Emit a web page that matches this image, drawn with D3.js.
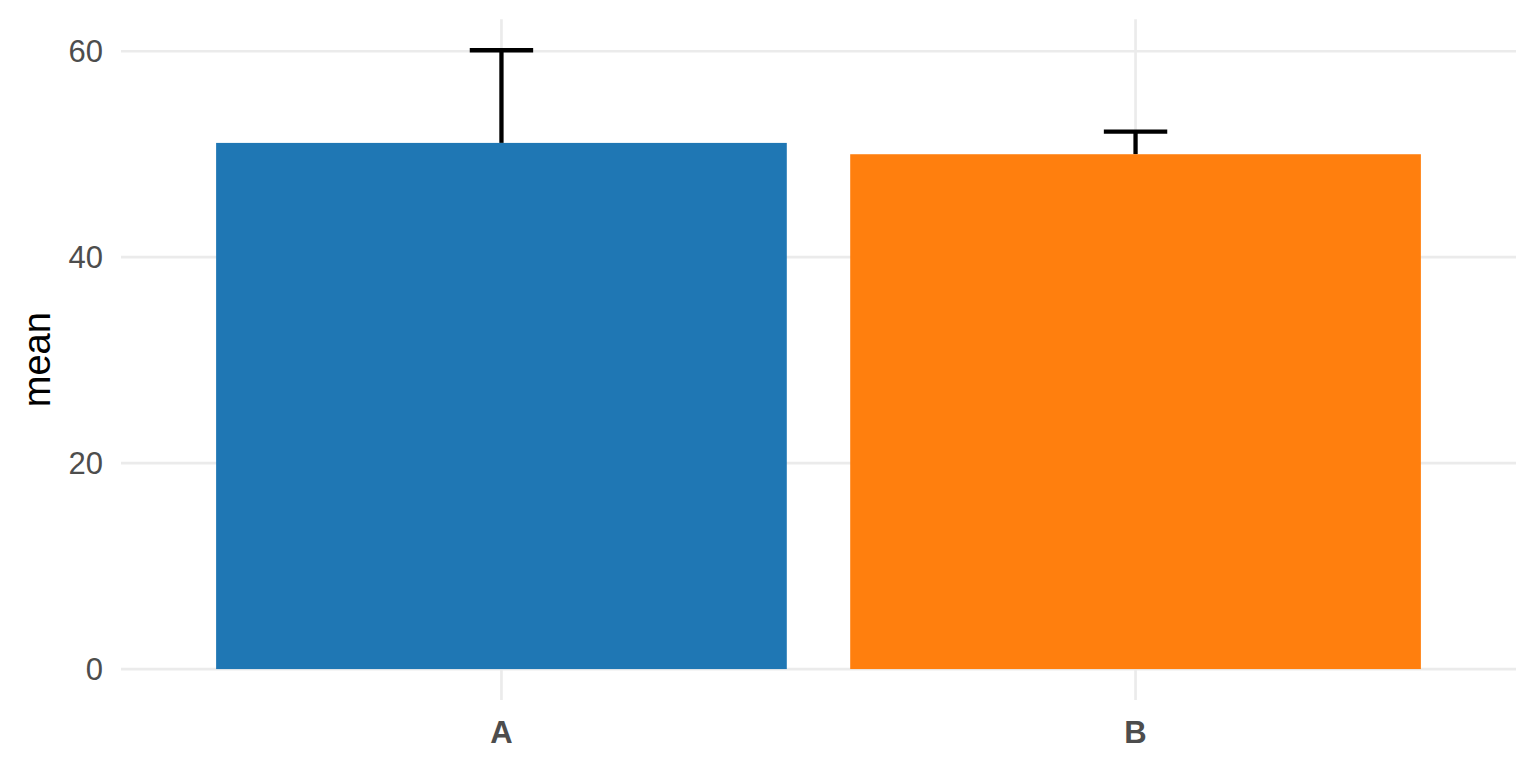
<!DOCTYPE html>
<html><head><meta charset="utf-8">
<script src="https://cdn.jsdelivr.net/npm/d3@7"></script>
<style>body{margin:0;background:#fff}svg{display:block}</style>
</head><body>
<script>
const categories = ["A", "B"];
const means = [51.1, 50.0];
const uppers = [60.1, 52.2];
const colors = ["#1f77b4", "#ff7f0e"];
const yTicks = [0, 20, 40, 60];

(function(){
const W = 1536, H = 768;
const svg = d3.select("body").append("svg").attr("width", W).attr("height", H);
const pL = 121, pR = 1516, pT = 19.3, pB = 700;

const step = (pR - pL) / (categories.length - 1 + 1.2);
const xc = d3.scalePoint().domain(categories).range([pL + 0.6*step, pR - 0.6*step]);
const barW = 0.9 * step;

const yMax = d3.max(uppers);
const y = d3.scaleLinear().domain([-0.05*yMax, yMax*1.05]).range([pB, pT]);

const grid = svg.append("g");
grid.selectAll("line.h").data(yTicks).enter().append("line")
  .attr("x1", pL).attr("x2", pR)
  .attr("y1", d => y(d)).attr("y2", d => y(d))
  .attr("stroke", "#ebebeb").attr("stroke-width", 2.7);
grid.selectAll("line.v").data(categories).enter().append("line")
  .attr("x1", d => xc(d)).attr("x2", d => xc(d))
  .attr("y1", pT).attr("y2", pB)
  .attr("stroke", "#ebebeb").attr("stroke-width", 2.7);

const data = categories.map((c, i) => ({c, m: means[i], u: uppers[i], col: colors[i]}));

const eb = svg.append("g");
eb.selectAll("line.v").data(data).enter().append("line")
  .attr("x1", d => xc(d.c)).attr("x2", d => xc(d.c))
  .attr("y1", d => y(d.u)).attr("y2", d => y(d.m))
  .attr("stroke", "#000").attr("stroke-width", 4.3);
eb.selectAll("line.c").data(data).enter().append("line")
  .attr("x1", d => xc(d.c) - 0.05*step).attr("x2", d => xc(d.c) + 0.05*step)
  .attr("y1", d => y(d.u)).attr("y2", d => y(d.u))
  .attr("stroke", "#000").attr("stroke-width", 4.3);

svg.append("g").selectAll("rect").data(data).enter().append("rect")
  .attr("x", d => xc(d.c) - barW/2).attr("width", barW)
  .attr("y", d => y(d.m)).attr("height", d => y(0) - y(d.m))
  .attr("fill", d => d.col);

svg.append("g").selectAll("text").data(yTicks).enter().append("text")
  .attr("x", 103).attr("y", d => y(d)).attr("dy", "0.36em")
  .attr("text-anchor", "end")
  .attr("font-family", "Liberation Sans, Arial, sans-serif")
  .attr("font-size", 31).attr("fill", "#4d4d4d")
  .text(d => d);

svg.append("g").selectAll("text").data(categories).enter().append("text")
  .attr("x", d => xc(d)).attr("y", 743)
  .attr("text-anchor", "middle")
  .attr("font-family", "Liberation Sans, Arial, sans-serif")
  .attr("font-weight", "bold")
  .attr("font-size", 31).attr("fill", "#4d4d4d")
  .text(d => d);

svg.append("text")
  .attr("transform", `translate(50,${(pT+pB)/2}) rotate(-90)`)
  .attr("text-anchor", "middle")
  .attr("font-family", "Liberation Sans, Arial, sans-serif")
  .attr("font-size", 38).attr("fill", "#000")
  .text("mean");
})();
</script>
</body></html>
